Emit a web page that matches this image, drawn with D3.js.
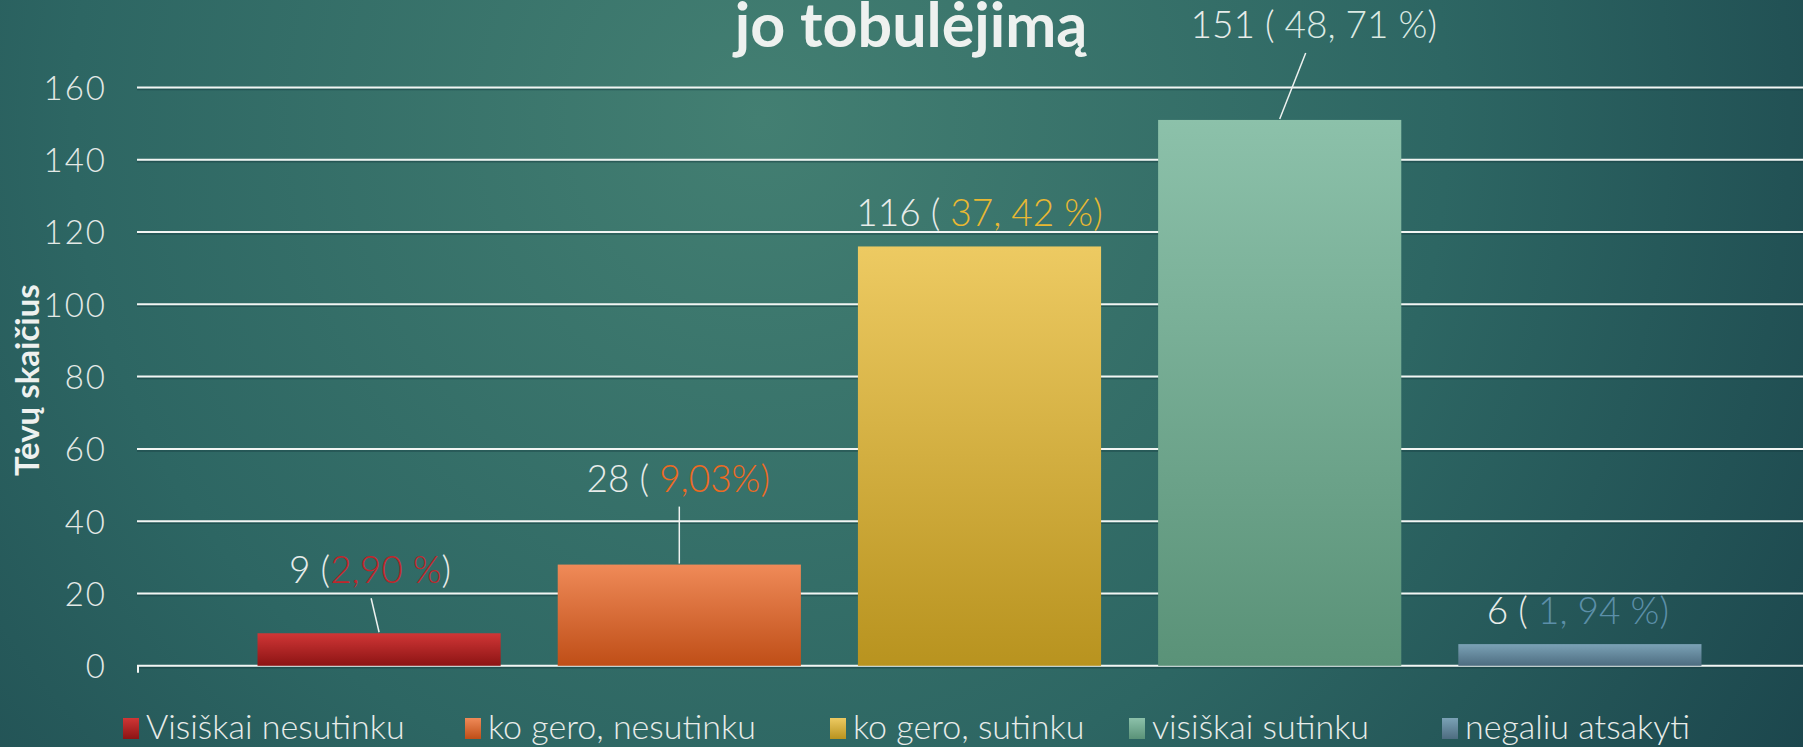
<!DOCTYPE html>
<html>
<head>
<meta charset="utf-8">
<script src="https://cdn.jsdelivr.net/npm/d3@7"></script>
<style>
  html, body { margin: 0; padding: 0; overflow: hidden; background: #23585a; }
  svg { display: block; font-family: "Century Gothic", "URW Gothic", Lato, sans-serif; }
</style>
</head>
<body>
<svg id="chart" width="1803" height="747"></svg>
<script>
// data
var categories = ["Visiškai nesutinku", "ko gero, nesutinku", "ko gero, sutinku", "visiškai sutinku", "negaliu atsakyti"];
var counts = [9, 28, 116, 151, 6];
var pctText = ["2,90 %", " 9,03%", " 37, 42 %", " 48, 71 %", " 1, 94 %"];
var yTicks = [0, 20, 40, 60, 80, 100, 120, 140, 160];

// styling per bar
var topColors = ["#d03636", "#ef8a58", "#edca62", "#8cc1aa", "#7ba2b6"];
var botColors = ["#8c1414", "#bf4e17", "#b8931f", "#5a9278", "#4d6c80"];
var pctColors = ["#c0262b", "#ee6a22", "#e9b832", "#dbe9e3", "#5c8fa9"];
var closeInPct = [false, true, true, false, true];
// label offsets from bar centre/top, px: [dx, dy, leader]
var labelPos = [[-9, -50, true], [-1, -73, true], [0, -20, false], [34, -82, true], [-2, -20, false]];

var svg = d3.select("#chart");
var W = 1803, H = 747;
var defs = svg.append("defs");

var bg = defs.append("radialGradient").attr("id", "bg")
    .attr("gradientUnits", "userSpaceOnUse")
    .attr("cx", 760).attr("cy", 120).attr("r", 1250);
bg.append("stop").attr("offset", "0%").attr("stop-color", "#437f72");
bg.append("stop").attr("offset", "55%").attr("stop-color", "#2d6663");
bg.append("stop").attr("offset", "100%").attr("stop-color", "#1b454c");
svg.append("rect").attr("width", W).attr("height", H).attr("fill", "url(#bg)");

categories.forEach(function(c, i) {
    var g = defs.append("linearGradient").attr("id", "bar" + i)
        .attr("x1", 0).attr("y1", 0).attr("x2", 0).attr("y2", 1);
    g.append("stop").attr("offset", "0%").attr("stop-color", topColors[i]);
    g.append("stop").attr("offset", "100%").attr("stop-color", botColors[i]);
});

var x = d3.scaleBand()
    .domain(categories)
    .range([229, 1730])
    .paddingInner(0.19)
    .paddingOuter(0.095);
var y = d3.scaleLinear()
    .domain([0, 160])
    .range([665.8, 87.4]);

var plotLeft = 137;

// gridlines
var grid = svg.append("g");
grid.selectAll("line.sh").data(yTicks).enter().append("line")
    .attr("x1", plotLeft).attr("x2", W)
    .attr("y1", function(d) { return y(d) + 2; })
    .attr("y2", function(d) { return y(d) + 2; })
    .attr("stroke", "#163c40").attr("stroke-opacity", 0.5).attr("stroke-width", 1.5);
grid.selectAll("line.gl").data(yTicks).enter().append("line")
    .attr("x1", plotLeft).attr("x2", W)
    .attr("y1", function(d) { return y(d); })
    .attr("y2", function(d) { return y(d); })
    .attr("stroke", "#f2f5f3").attr("stroke-width", 2);
grid.append("line")
    .attr("x1", plotLeft + 1).attr("x2", plotLeft + 1)
    .attr("y1", y(0)).attr("y2", y(0) + 7)
    .attr("stroke", "#f2f5f3").attr("stroke-width", 2);

// y axis labels
var yAxis = d3.axisLeft(y).tickValues(yTicks).tickSize(0).tickPadding(0);
var ya = svg.append("g").attr("transform", "translate(107,0)").call(yAxis);
ya.attr("font-family", null).attr("font-size", null);
ya.select(".domain").remove();
ya.selectAll("text")
    .attr("fill", "#e3e9e6")
    .attr("font-size", 33)
    .attr("font-weight", 300)
    .attr("letter-spacing", 2)
    .attr("dy", "0.36em");

// bars
svg.append("g").selectAll("rect").data(counts).enter().append("rect")
    .attr("x", function(d, i) { return x(categories[i]); })
    .attr("y", function(d) { return y(d); })
    .attr("width", x.bandwidth())
    .attr("height", function(d) { return y(0) - y(d); })
    .attr("fill", function(d, i) { return "url(#bar" + i + ")"; });

// data labels
var lab = svg.append("g").attr("font-size", 37).attr("font-weight", 300);
counts.forEach(function(v, i) {
    var cx = x(categories[i]) + x.bandwidth() / 2;
    var p = labelPos[i];
    var t = lab.append("text")
        .attr("x", cx + p[0]).attr("y", y(v) + p[1])
        .attr("text-anchor", "middle")
        .attr("fill", "#e8ecea");
    t.append("tspan").text(v + " (");
    t.append("tspan").attr("fill", pctColors[i]).text(pctText[i] + (closeInPct[i] ? ")" : ""));
    if (!closeInPct[i]) t.append("tspan").text(")");
    if (p[2]) {
        lab.append("line")
            .attr("x1", cx + p[0] + (i == 3 ? -8 : 1)).attr("y1", y(v) + p[1] + 15)
            .attr("x2", cx).attr("y2", y(v) - 1)
            .attr("stroke", "#eef2f0").attr("stroke-width", 1.5);
    }
});

// title (second line only visible)
svg.append("text")
    .attr("x", 911).attr("y", 47)
    .attr("text-anchor", "middle")
    .attr("font-size", 61).attr("font-weight", "bold")
    .attr("fill", "#eef1ef")
    .text("jo tobulėjimą");

// y title
svg.append("text")
    .attr("transform", "translate(39,380) rotate(-90)")
    .attr("text-anchor", "middle")
    .attr("font-size", 33).attr("font-weight", "bold")
    .attr("fill", "#eef1ef")
    .text("Tėvų skaičius");

// legend
var legX = [123, 465, 830, 1129, 1442];
var leg = svg.append("g").selectAll("g").data(categories).enter().append("g")
    .attr("transform", function(d, i) { return "translate(" + legX[i] + ",0)"; });
leg.append("rect")
    .attr("x", 0).attr("y", 718).attr("width", 16).attr("height", 21)
    .attr("fill", function(d, i) { return "url(#bar" + i + ")"; });
leg.append("text")
    .attr("x", 23).attr("y", 739)
    .attr("font-size", 34)
    .attr("font-weight", 300)
    .attr("fill", "#e8ecea")
    .text(function(d) { return d; });
</script>
</body>
</html>
